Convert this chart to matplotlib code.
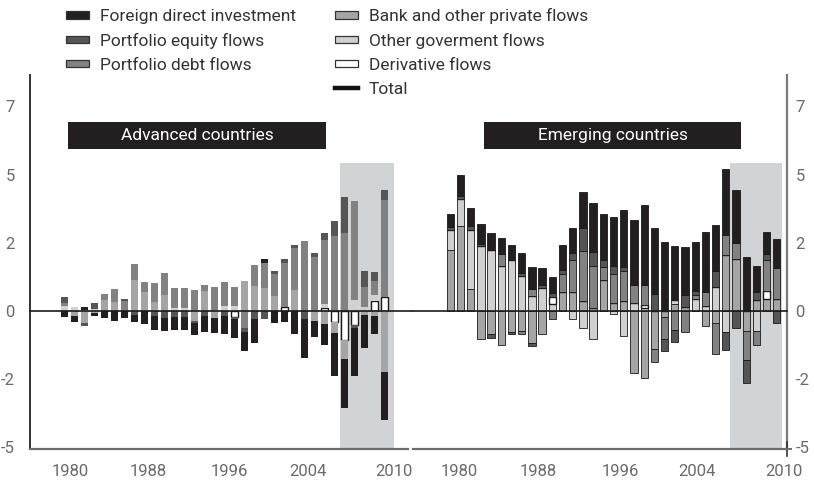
import matplotlib
matplotlib.use("Agg")
import matplotlib.pyplot as plt
from matplotlib.patches import Rectangle
from matplotlib.lines import Line2D

# ---------------- data (per cent of GDP) ----------------
years = list(range(1978, 2011))

adv_fdi = [-0.22, -0.20, 0.08, -0.12, -0.26, -0.38, -0.27, -0.25, -0.48, -0.51, -0.49, -0.49, -0.49,
           -0.45, -0.60, -0.55, -0.64, -0.67, -0.70, -0.88, 0.15, -0.43, -0.40, -0.83, -1.45, -0.62,
           -0.76, -1.59, -1.80, -1.77, -1.22, -0.65, -1.75]
adv_eq = [0.20, 0.00, -0.10, 0.22, 0.00, 0.00, 0.05, -0.16, 0.00, -0.20, -0.24, -0.22, -0.22,
          -0.06, -0.17, 0.00, -0.19, -0.08, -0.15, -0.30, -0.30, 0.12, 0.15, 0.13, -0.29, 0.15,
          0.24, 0.55, 1.32, -0.08, 0.57, 0.33, 0.40]
adv_debt = [0.10, 0.00, 0.00, 0.00, 0.22, 0.48, 0.38, 0.62, 0.37, 0.70, 0.84, 0.73, 0.72,
            0.76, 0.22, 0.88, 0.88, 0.70, -0.63, 0.77, 0.94, 0.80, 1.60, 1.52, 2.58, 1.96,
            2.35, 2.74, 2.84, 3.62, 0.73, 0.51, 3.55]
adv_bank = [0.00, -0.20, -0.45, -0.08, 0.40, 0.32, 0.00, 1.12, 0.68, 0.32, 0.57, 0.00, 0.00,
            -0.38, 0.72, -0.25, 0.00, 0.00, 1.10, 0.91, 0.83, 0.55, 0.00, 0.77, 0.00, -0.35,
            -0.49, -0.40, -0.67, 0.00, -0.15, -0.20, -2.24]
adv_gov = [0.20, 0.13, 0.05, 0.06, 0.00, 0.00, 0.00, 0.00, 0.00, 0.00, 0.00, 0.10, 0.11,
           0.00, 0.00, 0.00, 0.17, 0.17, 0.00, 0.00, 0.00, 0.00, 0.00, 0.00, 0.00, 0.00,
           0.16, 0.00, 0.00, 0.40, 0.15, 0.22, 0.00]
adv_der = [0.00, 0.00, 0.00, 0.00, 0.00, 0.00, 0.00, 0.00, 0.00, 0.00, 0.00, 0.00, 0.00,
           0.00, 0.00, 0.00, 0.00, -0.23, 0.00, 0.00, 0.00, 0.00, 0.15, 0.00, 0.00, 0.00,
           0.10, -0.40, -1.08, -0.53, 0.00, 0.37, 0.50]

emg_fdi = [0.49, 0.77, 0.68, 0.70, 0.64, 0.61, 0.55, 0.71, 0.80, 0.61, 0.59, 0.92, 0.92,
           1.32, 1.77, 1.71, 1.81, 2.08, 2.36, 2.92, 2.43, 2.53, 1.96, 1.75, 1.77, 2.22,
           1.69, 2.42, 1.96, 1.98, 0.94, 0.79, 1.04]
emg_eq = [0.10, 0.12, 0.15, 0.10, -0.12, 0.00, -0.09, 0.10, -0.10, 0.12, 0.15, 0.12, 0.27,
          0.86, 0.53, 0.22, 0.27, 0.16, 0.00, 0.00, 0.61, -0.44, -0.43, 0.43, 0.18, 0.00,
          0.57, -0.65, -0.61, -0.84, 0.28, 0.22, -0.43]
emg_debt = [0.00, 0.00, 0.00, 0.00, 0.00, 0.44, 0.00, -0.10, 0.28, 0.00, -0.28, 0.67, 1.16,
            1.83, 1.52, 0.51, 1.08, 1.10, 0.67, 0.75, -0.50, -0.80, -0.71, -0.77, 0.12, 0.51,
            -1.14, 0.73, 0.57, -1.04, -0.49, 1.15, 1.14]
emg_bank = [2.25, 3.12, 0.82, -1.01, -0.86, -1.26, -0.77, -0.73, -1.17, -0.86, 0.00, 0.70, 0.70,
            0.35, 0.12, 1.12, 0.29, 0.35, -2.26, -2.44, -1.38, -0.22, 0.24, 0.15, 0.00, -0.55,
            -0.43, 2.04, 1.92, -0.75, 0.42, 0.45, 0.45]
emg_gov = [0.73, 0.97, 2.14, 2.37, 2.22, 1.64, 1.86, 1.30, 0.54, 0.84, 0.24, 0.00, -0.28,
           -0.62, -1.01, 0.00, -0.10, -0.92, 0.29, 0.12, 0.00, 0.00, 0.17, 0.00, 0.45, 0.18,
           0.88, -0.77, 0.00, 0.00, -0.75, 0.00, 0.00]
emg_der = [0.00, 0.00, 0.00, 0.00, 0.00, 0.00, 0.00, 0.00, 0.00, 0.00, 0.27, 0.00, 0.00,
           0.00, 0.00, 0.00, 0.00, 0.00, 0.00, 0.10, 0.00, 0.00, 0.00, 0.00, 0.00, 0.00,
           0.00, 0.00, 0.00, 0.00, 0.00, 0.28, 0.00]

series_names = ["Foreign direct investment", "Portfolio equity flows", "Portfolio debt flows",
                "Bank and other private flows", "Other goverment flows", "Derivative flows"]
panel_titles = ["Advanced countries", "Emerging countries"]
tick_labels = ["1980", "1988", "1996", "2004", "2010"]
ytick_vals = [-5, -2.5, 0, 2.5, 5, 7.5]
ytick_labels = ["-5", "-2", "0", "2", "5", "7"]
crisis_start, crisis_end = 2006, 2010

# ---------------- style ----------------
C_FDI, C_EQ, C_DEBT, C_BANK, C_GOV, C_DER = "#231f20", "#555555", "#828282", "#a5a5a5", "#d0d0d0", "#ffffff"
colors = [C_FDI, C_EQ, C_DEBT, C_BANK, C_GOV, C_DER]
FONT = ["Roboto", "DejaVu Sans"]
plt.rcParams["font.family"] = FONT

W, H = 814, 484
fig = plt.figure(figsize=(W / 100, H / 100), dpi=100)

def fx(px):
    return px / W

def fy(py):
    return 1 - py / H

YMIN, YMAX = -5.06, 8.65
axL = fig.add_axes([fx(30), fy(449), fx(408) - fx(30), fy(75) - fy(449)])
axR = fig.add_axes([fx(413), fy(449), fx(787) - fx(413), fy(75) - fy(449)])

x0 = years[0]

def draw_panel(ax, comps, order, outlined, width, xlim, shade, tickpos):
    ax.set_xlim(*xlim)
    ax.set_ylim(YMIN, YMAX)
    ax.fill_between([shade[0], shade[1]], YMIN, 5.42, color="#d2d3d5", lw=0, zorder=0)
    n = len(years)
    pos = [0.0] * n
    neg = [0.0] * n
    xs = [y - x0 for y in years]
    for k in order:
        vals = comps[k]
        bottoms = []
        for i, v in enumerate(vals):
            if v >= 0:
                bottoms.append(pos[i]); pos[i] += v
            else:
                bottoms.append(neg[i]); neg[i] += v
        if k == 5:
            ec, lw = "#1a1a1a", 1.0
        elif outlined:
            ec, lw = "#1a1a1a", 0.6
        else:
            ec, lw = "none", 0
        ax.bar(xs, vals, bottom=bottoms, width=width, color=colors[k],
               edgecolor=ec, linewidth=lw, zorder=2)
    ax.set_xticks(tickpos)
    ax.set_xticklabels(tick_labels)
    ax.set_yticks(ytick_vals)
    ax.set_yticklabels(ytick_labels)
    ax.tick_params(axis="both", length=0, labelsize=12, labelcolor="#6a6a6a")
    ax.tick_params(axis="x", pad=11)
    for s in ["top", "left", "right", "bottom"]:
        ax.spines[s].set_visible(False)
    ax.spines["bottom"].set_visible(True)
    ax.spines["bottom"].set_color("#6d6d6d")
    ax.spines["bottom"].set_linewidth(1.6)

adv = [adv_fdi, adv_eq, adv_debt, adv_bank, adv_gov, adv_der]
emg = [emg_fdi, emg_eq, emg_debt, emg_bank, emg_gov, emg_der]

draw_panel(axL, adv, [5, 4, 3, 2, 1, 0], False, 0.72, (-3.45, 34.35),
           (crisis_start - x0 - 0.45, crisis_end - x0 + 0.95),
           [0.55, 8.35, 16.5, 24.3, 32.95])
draw_panel(axR, emg, [3, 4, 5, 2, 1, 0], True, 0.72, (-3.66, 33.0),
           (crisis_start - x0 - 0.6, crisis_end - x0 + 0.5),
           [0.92, 8.6, 16.7, 24.2, 32.7])

axL.spines["left"].set_visible(True)
axL.spines["left"].set_color("#333333")
axL.spines["left"].set_linewidth(1.4)
axL.tick_params(axis="y", pad=11)
axR.yaxis.tick_right()
axR.spines["right"].set_visible(True)
axR.spines["right"].set_color("#7a7a7a")
axR.spines["right"].set_linewidth(1.6)
axR.tick_params(axis="y", pad=6)

# small crossing tick at the bottom of the right-hand axis
axR.plot([1.0, 1.0], [-0.02, 0.02], transform=axR.transAxes, color="#333333", lw=1.2,
         clip_on=False, zorder=5)
axR.plot([0.99, 1.01], [0.0, 0.0], transform=axR.transAxes, color="#6d6d6d", lw=1.4,
         clip_on=False, zorder=5)

# zero line across both panels
axL.axhline(0, xmin=0, xmax=1.014, color="#1a1a1a", lw=1.2, zorder=3, clip_on=False)
axR.axhline(0, xmin=0, xmax=1.0, color="#1a1a1a", lw=1.2, zorder=3, clip_on=False)

# panel title boxes
for ax, title, (bx0, bx1) in [(axL, panel_titles[0], (0.1005, 0.783)),
                              (axR, panel_titles[1], (0.19, 0.877))]:
    ax.add_patch(Rectangle((bx0, 0.802), bx1 - bx0, 0.072, transform=ax.transAxes,
                           facecolor="#231f20", edgecolor="none", zorder=4))
    ax.text((bx0 + bx1) / 2, 0.838, title, transform=ax.transAxes, ha="center", va="center",
            color="white", fontsize=12.5, zorder=5)

# legend (drawn manually to match the two-column layout)
legend_cols = [(66, 100, [0, 1, 2]), (335, 369, [3, 4, 5, "total"])]
row_y = [15, 39.3, 63.6, 88]
for sx, tx, items in legend_cols:
    for r, k in enumerate(items):
        cy = row_y[r]
        if k == "total":
            fig.add_artist(Line2D([fx(sx), fx(sx + 23)], [fy(cy), fy(cy)], color="#111111", lw=3.2))
            label = "Total"
        else:
            fig.add_artist(Rectangle((fx(sx), fy(cy + 3.5)), fx(23), 7 / H, transform=fig.transFigure,
                                     facecolor=colors[k], edgecolor="#333333", lw=0.9))
            label = series_names[k]
        fig.text(fx(tx), fy(cy + 6.5), label, ha="left", va="baseline", fontsize=12.5, color="#333333")

fig.savefig("out.png", dpi=100)
